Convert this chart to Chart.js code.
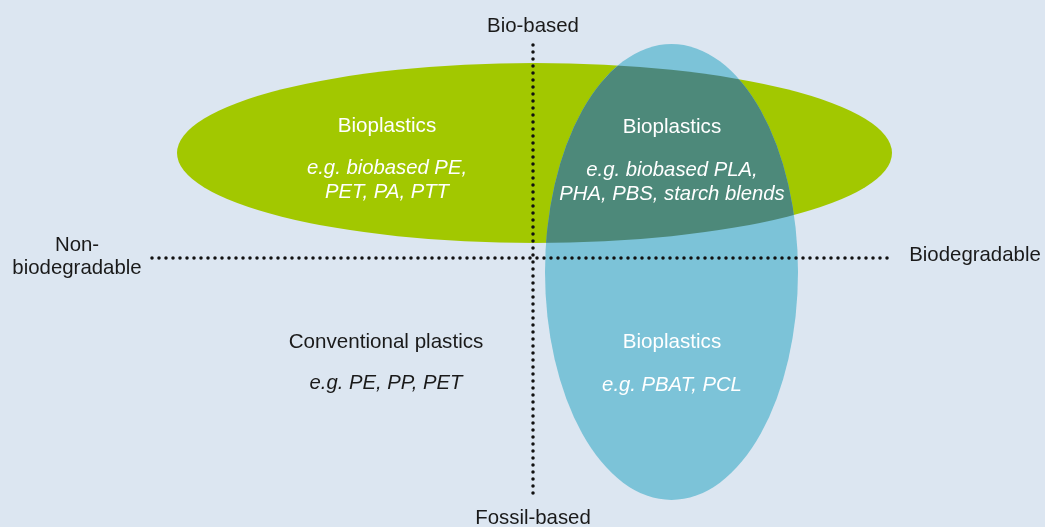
<!DOCTYPE html>
<html>
<head>
<meta charset="utf-8">
<script src="https://cdn.jsdelivr.net/npm/chart.js@4.4.1/dist/chart.umd.min.js"></script>
<style>
  html, body { margin: 0; padding: 0; background: #dce6f1; }
  #wrap { width: 1045px; height: 527px; }
</style>
</head>
<body>
<div id="wrap"><canvas id="c" width="1045" height="527"></canvas></div>
<script>
// ---- Conceptual coordinate system: x = degradability, y = feedstock origin ----
// Axis extents (units)
const xRange = [-10.66, 10.24];
const yRange = [-5.38, 5.16];

// Dotted axis lines
const hAxisX = [-7.62, 7.16];   // horizontal dotted line, y = 0
const vAxisY = [4.26, -4.76];   // vertical dotted line, x = 0

// Axis end labels
const axisLabelText = ['Bio-based', 'Fossil-based', 'Non-\nbiodegradable', 'Biodegradable'];
const axisLabelX = [0, 0, -9.12, 8.84];
const axisLabelY = [4.64, -5.20, 0.03, 0.06];

// Ellipses (bio-based plastics, biodegradable plastics)
const ellipseNames = ['Bio-based', 'Biodegradable'];
const ellipseCX = [0.03, 2.77];
const ellipseCY = [2.10, -0.28];
const ellipseRX = [7.15, 2.53];
const ellipseRY = [1.80, 4.56];

// Quadrant groups
const groupTitles = ['Bioplastics', 'Bioplastics', 'Conventional plastics', 'Bioplastics'];
const groupExamples = [
  ['e.g. biobased PE,', 'PET, PA, PTT'],
  ['e.g. biobased PLA,', 'PHA, PBS, starch blends'],
  ['e.g. PE, PP, PET'],
  ['e.g. PBAT, PCL']
];
const groupX = [-2.92, 2.78, -2.94, 2.78];
const groupTitleY = [2.64, 2.62, -1.68, -1.68];
const groupExampleY = [1.56, 1.52, -2.50, -2.54];
const groupDark = [false, false, true, false];

const BG = '#dce6f1';
const GREEN = '#a2c800';
const BLUE = '#7cc3d8';
const OVERLAP = '#4d897a';
const INK = '#1a1a1a';
const FONT = '"Liberation Sans", Arial, sans-serif';

const ellipsePlugin = {
  id: 'ellipses',
  beforeDatasetsDraw(chart) {
    const ctx = chart.ctx, xs = chart.scales.x, ys = chart.scales.y;
    const path = (i) => {
      const cx = xs.getPixelForValue(ellipseCX[i]);
      const cy = ys.getPixelForValue(ellipseCY[i]);
      const rx = Math.abs(xs.getPixelForValue(ellipseCX[i] + ellipseRX[i]) - cx);
      const ry = Math.abs(ys.getPixelForValue(ellipseCY[i] + ellipseRY[i]) - cy);
      ctx.beginPath();
      ctx.ellipse(cx, cy, rx, ry, 0, 0, Math.PI * 2);
    };
    ctx.save();
    path(0); ctx.fillStyle = GREEN; ctx.fill();
    path(1); ctx.fillStyle = BLUE; ctx.fill();
    path(0); ctx.clip();
    path(1); ctx.fillStyle = OVERLAP; ctx.fill();
    ctx.restore();
  },
  afterDatasetsDraw(chart) {
    const ctx = chart.ctx, xs = chart.scales.x, ys = chart.scales.y;
    ctx.save();
    ctx.textAlign = 'center';
    ctx.textBaseline = 'middle';
    // axis labels
    ctx.fillStyle = INK;
    ctx.font = '20.4px ' + FONT;
    axisLabelText.forEach((t, i) => {
      const lines = t.split('\n');
      const px = xs.getPixelForValue(axisLabelX[i]);
      const py = ys.getPixelForValue(axisLabelY[i]);
      const lh = 23;
      lines.forEach((ln, k) => {
        ctx.fillText(ln, px, py + (k - (lines.length - 1) / 2) * lh);
      });
    });
    // groups
    groupTitles.forEach((t, i) => {
      const px = xs.getPixelForValue(groupX[i]);
      ctx.fillStyle = groupDark[i] ? INK : '#ffffff';
      ctx.font = '20.6px ' + FONT;
      ctx.fillText(t, px, ys.getPixelForValue(groupTitleY[i]));
      ctx.font = 'italic 20.3px ' + FONT;
      const ex = groupExamples[i];
      const cy = ys.getPixelForValue(groupExampleY[i]);
      ex.forEach((ln, k) => {
        ctx.fillText(ln, px, cy + (k - (ex.length - 1) / 2) * 24);
      });
    });
    ctx.restore();
  }
};

const bgPlugin = {
  id: 'bg',
  beforeDraw(chart) {
    const ctx = chart.ctx;
    ctx.save();
    ctx.fillStyle = BG;
    ctx.fillRect(0, 0, chart.width, chart.height);
    ctx.restore();
  }
};

const dotted = {
  borderColor: '#111111',
  borderWidth: 3.5,
  borderDash: [0, 7],
  borderCapStyle: 'round',
  pointRadius: 0,
  showLine: true,
  fill: false,
  tension: 0
};

new Chart(document.getElementById('c'), {
  type: 'scatter',
  data: {
    datasets: [
      Object.assign({ label: 'Degradability axis', data: hAxisX.map(x => ({ x: x, y: 0 })) }, dotted),
      Object.assign({ label: 'Origin axis', data: vAxisY.map(y => ({ x: 0, y: y })) }, dotted)
    ]
  },
  options: {
    responsive: false,
    animation: false,
    layout: { padding: 0 },
    plugins: { legend: { display: false }, tooltip: { enabled: false }, title: { display: false } },
    scales: {
      x: { type: 'linear', min: xRange[0], max: xRange[1], display: false },
      y: { type: 'linear', min: yRange[0], max: yRange[1], display: false }
    }
  },
  plugins: [bgPlugin, ellipsePlugin]
});
</script>
</body>
</html>
